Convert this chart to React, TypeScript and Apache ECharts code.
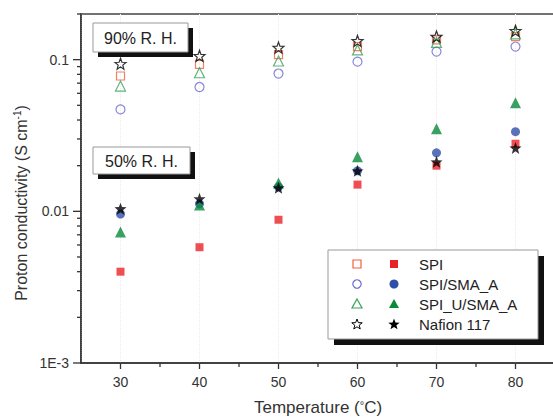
import React, { useEffect, useRef } from "react";
import * as echarts from "echarts";

const temps = [30, 40, 50, 60, 70, 80];
// 90% R.H. (open symbols)
const spi90 = [0.078, 0.093, 0.108, 0.122, 0.135, 0.142];
const sma90 = [0.047, 0.066, 0.081, 0.097, 0.113, 0.122];
const u90 = [0.067, 0.082, 0.098, 0.116, 0.13, 0.148];
const naf90 = [0.094, 0.106, 0.12, 0.133, 0.142, 0.155];
// 50% R.H. (filled symbols)
const spi50 = [0.004, 0.0058, 0.0088, 0.015, 0.02, 0.0279];
const sma50 = [0.0096, 0.0112, 0.0145, 0.0185, 0.0243, 0.0335];
const u50 = [0.0073, 0.011, 0.0154, 0.0229, 0.035, 0.052];
const naf50 = [0.0104, 0.0121, 0.0143, 0.0185, 0.0212, 0.0262];

const legendNames = ["SPI", "SPI/SMA_A", "SPI_U/SMA_A", "Nafion 117"];
const boxLabels = ["90% R. H.", "50% R. H."];

const xMin = 25;
const xMax = 85;
const yMin = 0.001;
const yMax = 0.2;
const xMajorTicks = [30, 40, 50, 60, 70, 80];
const xMinorTicks = [35, 45, 55, 65, 75];
const yMajorTicks = [0.001, 0.01, 0.1];
const yMinorTicks = [
  0.002, 0.003, 0.004, 0.005, 0.006, 0.007, 0.008, 0.009,
  0.02, 0.03, 0.04, 0.05, 0.06, 0.07, 0.08, 0.09, 0.2,
];

const C = {
  spiOpen: "#f0603f",
  spiFill: "#e82328",
  smaOpen: "#6b6bd0",
  smaFill: "#2f4fa8",
  uOpen: "#3aa05a",
  uFill: "#0a8a3b",
  naf: "#000000",
  axis: "#333333",
};

function starPath(): string {
  const pts: string[] = [];
  for (let i = 0; i < 10; i++) {
    const r = i % 2 === 0 ? 10 : 4.2;
    const a = -Math.PI / 2 + (i * Math.PI) / 5;
    pts.push((10 + r * Math.cos(a)).toFixed(2) + " " + (10 + r * Math.sin(a)).toFixed(2));
  }
  return "path://M" + pts.join(" L") + " Z";
}

function starPoints(cx: number, cy: number, R: number): number[][] {
  const pts: number[][] = [];
  for (let i = 0; i < 10; i++) {
    const r = i % 2 === 0 ? R : R * 0.42;
    const a = -Math.PI / 2 + (i * Math.PI) / 5;
    pts.push([cx + r * Math.cos(a), cy + r * Math.sin(a)]);
  }
  return pts;
}

const STAR = starPath();
const FONT = "Liberation Sans, Arial, sans-serif";

function pairs(vals: number[]) {
  return temps.map((t, i) => [t, vals[i]]);
}

function openSeries(name: string, vals: number[], symbol: string, size: number, color: string) {
  return {
    type: "scatter",
    name,
    data: pairs(vals),
    symbol,
    symbolSize: size,
    itemStyle: { color: "rgba(255,255,255,0)", borderColor: color, borderWidth: 1.2 },
    z: 3,
  };
}
function fillSeries(name: string, vals: number[], symbol: string, size: number, color: string) {
  return {
    type: "scatter",
    name,
    data: pairs(vals),
    symbol,
    symbolSize: size,
    itemStyle: { color },
    z: 4,
  };
}

export default function App() {
  const ref = useRef<HTMLDivElement>(null);
  useEffect(() => {
    if (!ref.current) return;
    const chart = echarts.init(ref.current, null, { renderer: "svg" });

    const tickSeries = (data: number[][], dir: "x" | "y", len: number) => ({
      type: "custom",
      silent: true,
      clip: false,
      z: 10,
      data,
      renderItem: (params: any, api: any) => {
        const p = api.coord([api.value(0), api.value(1)]);
        const cs = params.coordSys;
        if (dir === "x") {
          const yb = cs.y + cs.height;
          return {
            type: "line",
            shape: { x1: p[0], y1: yb, x2: p[0], y2: yb + len },
            style: { stroke: C.axis, lineWidth: 1.3 },
          };
        }
        const xl = cs.x;
        return {
          type: "line",
          shape: { x1: xl - len, y1: p[1], x2: xl, y2: p[1] },
          style: { stroke: C.axis, lineWidth: 1.3 },
        };
      },
    });

    const legendX0 = 328;
    const legendY0 = 250;
    const legendW = 210;
    const legendH = 89;
    const rowY = (i: number) => 264 + i * 20;
    const openX = 357;
    const fillX = 394;
    const textX = 419;

    const legendMarkers: any[] = [];
    const openCols = [C.spiOpen, C.smaOpen, C.uOpen, C.naf];
    const fillCols = [C.spiFill, C.smaFill, C.uFill, C.naf];
    for (let i = 0; i < 4; i++) {
      const y = rowY(i);
      if (i === 0) {
        legendMarkers.push({ type: "rect", shape: { x: openX - 4, y: y - 4, width: 8, height: 8 }, style: { fill: "#fff", stroke: openCols[0], lineWidth: 1.2 } });
        legendMarkers.push({ type: "rect", shape: { x: fillX - 4, y: y - 4, width: 8, height: 8 }, style: { fill: fillCols[0] } });
      } else if (i === 1) {
        legendMarkers.push({ type: "circle", shape: { cx: openX, cy: y, r: 4.2 }, style: { fill: "#fff", stroke: openCols[1], lineWidth: 1.2 } });
        legendMarkers.push({ type: "circle", shape: { cx: fillX, cy: y, r: 4.5 }, style: { fill: fillCols[1] } });
      } else if (i === 2) {
        const tri = (cx: number) => [[cx, y - 5], [cx + 5, y + 4], [cx - 5, y + 4]];
        legendMarkers.push({ type: "polygon", shape: { points: tri(openX) }, style: { fill: "#fff", stroke: openCols[2], lineWidth: 1.2 } });
        legendMarkers.push({ type: "polygon", shape: { points: tri(fillX) }, style: { fill: fillCols[2] } });
      } else {
        legendMarkers.push({ type: "polygon", shape: { points: starPoints(openX, y + 0.5, 5.5) }, style: { fill: "#fff", stroke: "#000", lineWidth: 1 } });
        legendMarkers.push({ type: "polygon", shape: { points: starPoints(fillX, y + 0.5, 6) }, style: { fill: "#000" } });
      }
      legendMarkers.push({
        type: "text",
        x: textX,
        y,
        style: { text: legendNames[i], font: `15px ${FONT}`, fill: "#222", verticalAlign: "middle", textAlign: "left" },
      });
    }

    const labelBox = (x: number, y: number, w: number, h: number, text: string) => [
      { type: "rect", shape: { x: x + 5, y: y + 5, width: w, height: h }, style: { fill: "#111" }, z: 20 },
      { type: "rect", shape: { x, y, width: w, height: h }, style: { fill: "#fff", stroke: "#999", lineWidth: 1 }, z: 21 },
      {
        type: "text",
        x: x + w / 2,
        y: y + h / 2 + 1,
        style: { text, font: `16px ${FONT}`, fill: "#222", textAlign: "center", verticalAlign: "middle" },
        z: 22,
      },
    ];

    chart.setOption({
      animation: false,
      backgroundColor: "#fff",
      textStyle: { fontFamily: FONT },
      grid: {
        left: 81,
        top: 14,
        width: 474,
        height: 349,
        outerBoundsMode: "none",
        containLabel: false,
        show: true,
        borderColor: "#444",
        borderWidth: 1.5,
        backgroundColor: "transparent",
      },
      xAxis: {
        type: "value",
        min: xMin,
        max: xMax,
        splitNumber: 6,
        axisLine: { show: true, lineStyle: { color: C.axis, width: 1.5 } },
        axisTick: { show: false },
        splitLine: { show: true, lineStyle: { color: "#ececec", type: "dotted", width: 1 } },
        axisLabel: {
          color: "#333",
          fontSize: 14,
          margin: 12,
          formatter: (v: number) => (v % 10 === 0 && v >= 30 && v <= 80 ? String(v) : ""),
        },
        name: "Temperature ({d|°}C)",
        nameLocation: "middle",
        nameGap: 36,
        nameTextStyle: {
          fontSize: 17,
          color: "#333",
          rich: { d: { fontSize: 11, verticalAlign: "top", padding: [0, 0, 6, 0], color: "#333" } },
        },
      },
      yAxis: {
        type: "log",
        logBase: 10,
        min: yMin,
        max: yMax,
        axisLine: { show: true, lineStyle: { color: C.axis, width: 1.5 } },
        axisTick: { show: false },
        splitLine: { show: false },
        axisLabel: {
          color: "#333",
          fontSize: 14,
          margin: 12,
          formatter: (v: number) => {
            const e = Math.log10(v);
            if (Math.abs(e - Math.round(e)) > 1e-6) return "";
            const k = Math.round(e);
            if (k === -1) return "0.1";
            if (k === -2) return "0.01";
            if (k === -3) return "1E-3";
            return "";
          },
        },
      },
      graphic: [
        {
          type: "text",
          x: 21,
          y: 203,
          rotation: Math.PI / 2,
          style: {
            text: "Proton conductivity (S cm{sup|-1})",
            font: `16px ${FONT}`,
            fill: "#333",
            textAlign: "center",
            verticalAlign: "middle",
            rich: { sup: { fontSize: 10, verticalAlign: "top", padding: [0, 0, 8, 0], fill: "#333" } },
          },
        },
        ...labelBox(93, 23, 95, 29, boxLabels[0]),
        ...labelBox(93, 147, 97, 27, boxLabels[1]),
        { type: "rect", shape: { x: legendX0 + 6, y: legendY0 + 6, width: legendW, height: legendH }, style: { fill: "#111" }, z: 20 },
        { type: "rect", shape: { x: legendX0, y: legendY0, width: legendW, height: legendH }, style: { fill: "#fff", stroke: "#999", lineWidth: 1 }, z: 21 },
        { type: "group", z: 22, children: legendMarkers.map((m) => ({ ...m, z: 22 })) },
      ],
      series: [
        openSeries("SPI 90% R.H.", spi90, "rect", 8, C.spiOpen),
        openSeries("SPI/SMA_A 90% R.H.", sma90, "circle", 9, C.smaOpen),
        openSeries("SPI_U/SMA_A 90% R.H.", u90, "triangle", 10, C.uOpen),
        openSeries("Nafion 117 90% R.H.", naf90, STAR, 11, C.naf),
        fillSeries("SPI 50% R.H.", spi50, "rect", 8, C.spiFill),
        fillSeries("SPI/SMA_A 50% R.H.", sma50, "circle", 9, C.smaFill),
        fillSeries("SPI_U/SMA_A 50% R.H.", u50, "triangle", 11, C.uFill),
        fillSeries("Nafion 117 50% R.H.", naf50, STAR, 12, C.naf),
        tickSeries(xMajorTicks.map((v) => [v, yMin]), "x", 6),
        tickSeries(xMinorTicks.map((v) => [v, yMin]), "x", 4),
        tickSeries(yMajorTicks.map((v) => [xMin, v]), "y", 8),
        tickSeries(yMinorTicks.map((v) => [xMin, v]), "y", 4),
      ],
    });
    return () => chart.dispose();
  }, []);
  return <div ref={ref} style={{ position: "absolute", left: 0, top: 0, width: 553, height: 419 }} />;
}
